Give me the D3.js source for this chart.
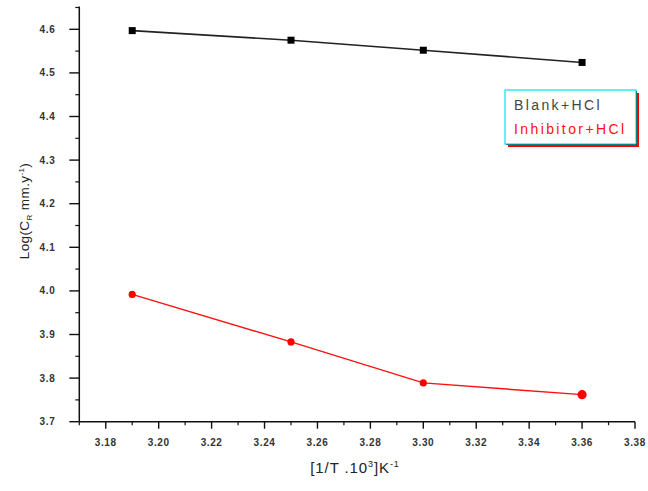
<!DOCTYPE html>
<html>
<head>
<meta charset="utf-8">
<script src="https://cdn.jsdelivr.net/npm/d3@7"></script>
<style>
  html, body { margin: 0; padding: 0; background: #fff; }
  svg { display: block; }
</style>
</head>
<body>
<svg id="chart" width="648" height="491"></svg>
<script>
// Reciprocal temperature (1/T x 10^3, K^-1)
const invT = [3.19, 3.25, 3.30, 3.36];
// Log of corrosion rate, mm/y
const blankHCl = [4.597, 4.575, 4.552, 4.524];
const inhibitorHCl = [3.992, 3.883, 3.789, 3.762];
const seriesNames = ["Blank+HCl", "Inhibitor+HCl"];
const xTickValues = [3.18, 3.20, 3.22, 3.24, 3.26, 3.28, 3.30, 3.32, 3.34, 3.36, 3.38];
const yTickValues = [3.7, 3.8, 3.9, 4.0, 4.1, 4.2, 4.3, 4.4, 4.5, 4.6];

const svg = d3.select("#chart");
const font = "'Liberation Sans', Arial, sans-serif";

const x = d3.scaleLinear().domain([3.17, 3.38]).range([79.3, 635]);
const y = d3.scaleLinear().domain([3.7, 4.6]).range([421.7, 29.3]);
const yTop = y(4.65);

// minor ticks
const xMinor = d3.range(3.17, 3.3801, 0.01).map(v => +v.toFixed(2));
const yMinor = d3.range(3.75, 4.651, 0.1).map(v => +v.toFixed(2));

const gx = svg.append("g").attr("transform", `translate(0,${y(3.7)})`);
gx.append("line").attr("x1", x(3.17)).attr("x2", x(3.38)).attr("stroke", "#111").attr("stroke-width", 1.5);
gx.selectAll("line.minor").data(xMinor.filter(v => !xTickValues.some(t => Math.abs(t - v) < 1e-6)))
  .join("line").attr("class", "minor")
  .attr("x1", d => x(d)).attr("x2", d => x(d)).attr("y1", 0).attr("y2", 3.5)
  .attr("stroke", "#111").attr("stroke-width", 1.2);
gx.selectAll("line.major").data(xTickValues).join("line").attr("class", "major")
  .attr("x1", d => x(d)).attr("x2", d => x(d)).attr("y1", 0).attr("y2", 7)
  .attr("stroke", "#111").attr("stroke-width", 1.4);
gx.selectAll("text").data(xTickValues).join("text")
  .attr("x", d => x(d)).attr("y", 24)
  .attr("text-anchor", "middle")
  .attr("font-family", font).attr("font-size", 10).attr("font-weight", "bold")
  .attr("fill", "#333").attr("letter-spacing", 0.6)
  .text(d => d.toFixed(2));

const gy = svg.append("g").attr("transform", `translate(${x(3.17)},0)`);
gy.append("line").attr("y1", yTop - 1).attr("y2", y(3.7)).attr("stroke", "#111").attr("stroke-width", 1.5);
gy.selectAll("line.minor").data(yMinor).join("line").attr("class", "minor")
  .attr("x1", -4).attr("x2", 0).attr("y1", d => y(d)).attr("y2", d => y(d))
  .attr("stroke", "#111").attr("stroke-width", 1.2);
gy.selectAll("line.major").data(yTickValues).join("line").attr("class", "major")
  .attr("x1", -10).attr("x2", 0).attr("y1", d => y(d)).attr("y2", d => y(d))
  .attr("stroke", "#111").attr("stroke-width", 1.4);
gy.selectAll("text").data(yTickValues).join("text")
  .attr("x", -24).attr("y", d => y(d) + 3.5)
  .attr("text-anchor", "end")
  .attr("font-family", font).attr("font-size", 10).attr("font-weight", "bold")
  .attr("fill", "#333").attr("letter-spacing", 0.6)
  .text(d => d.toFixed(1));

// axis titles
const yt = svg.append("text")
  .attr("transform", "translate(29,211) rotate(-90)")
  .attr("text-anchor", "middle")
  .attr("font-family", font).attr("font-size", 13.5).attr("fill", "#222")
  .attr("letter-spacing", 0.4);
yt.append("tspan").text("Log(C");
yt.append("tspan").attr("font-size", 8).attr("dy", 3).text("R");
yt.append("tspan").attr("dy", -3).text(" mm.y");
yt.append("tspan").attr("font-size", 8).attr("dy", -5).text("-1");
yt.append("tspan").attr("dy", 5).text(")");

const xt = svg.append("text")
  .attr("x", 355).attr("y", 473)
  .attr("text-anchor", "middle")
  .attr("font-family", font).attr("font-size", 15).attr("fill", "#222")
  .attr("letter-spacing", 0.9);
xt.append("tspan").text("[1/T .10");
xt.append("tspan").attr("font-size", 9).attr("dy", -6).text("3");
xt.append("tspan").attr("dy", 6).text("]K");
xt.append("tspan").attr("font-size", 9).attr("dy", -6).text("-1");

// series lines and markers
const line = d3.line().x(d => x(d[0])).y(d => y(d[1]));
const blackPts = invT.map((t, i) => [t, blankHCl[i]]);
const redPts = invT.map((t, i) => [t, inhibitorHCl[i]]);

svg.append("path").datum(blackPts).attr("d", line)
  .attr("fill", "none").attr("stroke", "#222").attr("stroke-width", 1.6);
svg.selectAll("rect.pt").data(blackPts).join("rect").attr("class", "pt")
  .attr("x", d => x(d[0]) - 3.5).attr("y", d => y(d[1]) - 3.5)
  .attr("width", 7).attr("height", 7).attr("fill", "#000");

svg.append("path").datum(redPts).attr("d", line)
  .attr("fill", "none").attr("stroke", "#ff1010").attr("stroke-width", 1.4);
svg.selectAll("circle.pt").data(redPts).join("circle").attr("class", "pt")
  .attr("cx", d => x(d[0])).attr("cy", d => y(d[1]))
  .attr("r", (d, i) => i === redPts.length - 1 ? 4.6 : 3.6)
  .attr("fill", "#ff0000");

// legend box with shadow
const lg = svg.append("g");
lg.append("rect").attr("x", 508).attr("y", 93).attr("width", 131).attr("height", 54).attr("fill", "#ff0000");
lg.append("rect").attr("x", 506).attr("y", 91).attr("width", 131).attr("height", 54).attr("fill", "#000");
lg.append("rect").attr("x", 505).attr("y", 90).attr("width", 131).attr("height", 54)
  .attr("fill", "#fff").attr("stroke", "#00e5e5").attr("stroke-width", 1.2);
const legendColors = ["#444", "#ff1010"];
lg.selectAll("text").data(seriesNames).join("text")
  .attr("x", 514).attr("y", (d, i) => 110 + i * 24)
  .attr("font-family", font).attr("font-size", 14)
  .attr("letter-spacing", 2.4)
  .attr("fill", (d, i) => legendColors[i])
  .text(d => d);
</script>
</body>
</html>
